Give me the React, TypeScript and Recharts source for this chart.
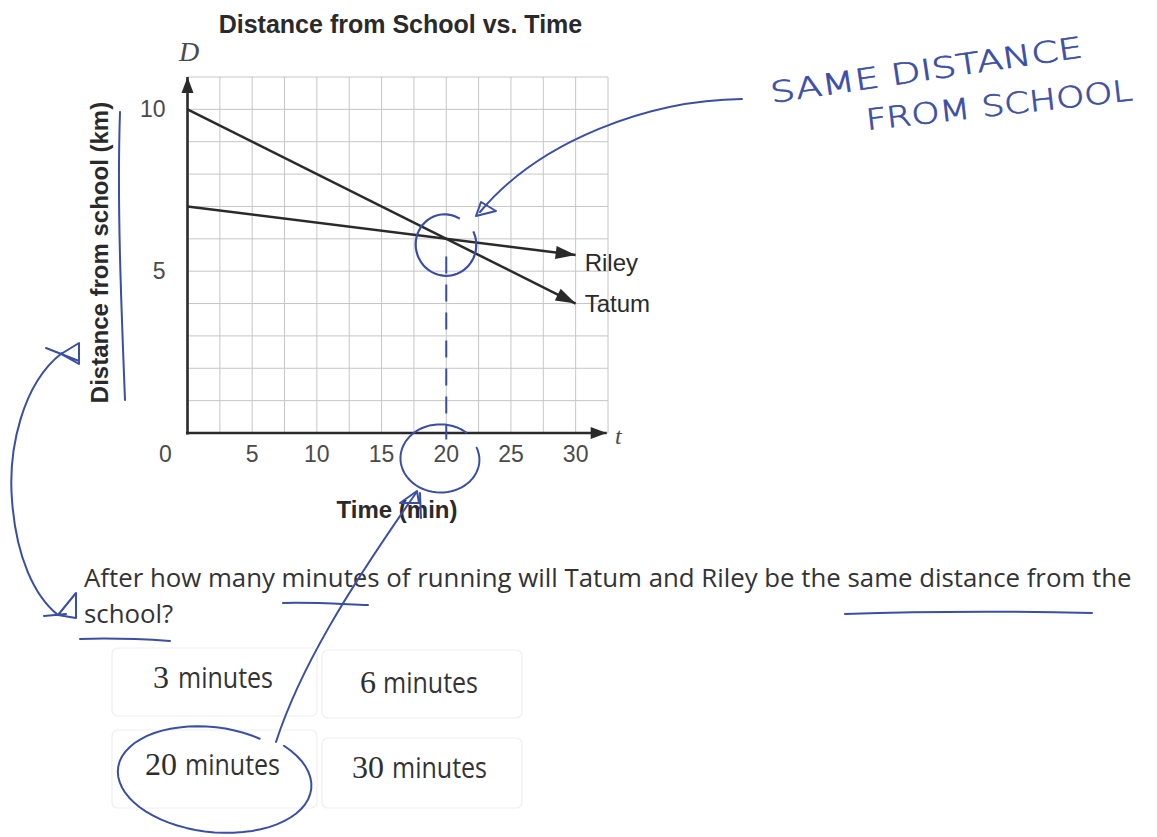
import { LineChart, Line, XAxis, YAxis, CartesianGrid, ReferenceLine, ReferenceDot, LabelList } from 'recharts'

// time in minutes, distance in km
const minutes = [0, 30]
const tatumKm = [10, 4]
const rileyKm = [7, 5.5]

const xTicks = [0, 5, 10, 15, 20, 25, 30]
const yTicks = [5, 10]
const gridMinutes = [0, 2.5, 5, 7.5, 10, 12.5, 15, 17.5, 20, 22.5, 25, 27.5, 30, 32.5]
const gridKm = [0, 1, 2, 3, 4, 5, 6, 7, 8, 9, 10, 11]

const meetMinute = 20
const meetKm = 6
const choiceMinutes = [3, 6, 20, 30]

const data = minutes.map((t, i) => ({ t, tatum: tatumKm[i], riley: rileyKm[i] }))

const INK = '#2a2a2a'
const TICK = '#4a4a4a'
const GRID = '#c6c6c6'
const PEN = '#3b4ea5'
const SANS = "'Liberation Sans', Arial, Helvetica, sans-serif"
const SERIF = "'Liberation Serif', 'Times New Roman', serif"
const BODY = "'Open Sans', 'Noto Sans', sans-serif"
const HAND = "'DejaVu Sans', sans-serif"

const W = 1157
const H = 837
const PLOT = { left: 187.5, top: 77, right: 608, bottom: 433 }

// axis line with a filled arrowhead at the far end
const AxisArrow = (p: any) => {
  const { x1, y1, x2, y2 } = p
  const ang = (Math.atan2(y2 - y1, x2 - x1) * 180) / Math.PI
  return (
    <g>
      <line x1={x1} y1={y1} x2={x2} y2={y2} stroke={INK} strokeWidth={2.6} />
      <path d="M0 0 L-16 -6 L-16 6 Z" fill={INK} transform={`translate(${x2},${y2}) rotate(${ang})`} />
    </g>
  )
}

// arrowhead drawn on the last point of a series
const arrowDot = (key: string) => (p: any) => {
  const { cx, cy, index, points } = p
  if (index !== minutes.length - 1) return <g key={`${key}-${index}`} />
  let ang = 0
  if (points && points.length > 1) {
    const prev = points[index - 1]
    ang = (Math.atan2(cy - prev.y, cx - prev.x) * 180) / Math.PI
  }
  return (
    <path
      key={`${key}-${index}`}
      d="M0 0 L-20 -6.5 L-20 6.5 Z"
      fill={INK}
      transform={`translate(${cx},${cy}) rotate(${ang})`}
    />
  )
}

const endLabel = (text: string, dy: number) => (p: any) => {
  if (p.index !== minutes.length - 1) return null
  return (
    <text x={p.x + 9} y={p.y + dy} fill={INK} fontSize={24} fontFamily={SANS}>
      {text}
    </text>
  )
}

const XTick = (p: any) => {
  const v = p.payload.value
  return (
    <text x={p.x + (v === 0 ? -22 : 0)} y={p.y} dy={29} textAnchor="middle" fill={TICK} fontSize={23} fontFamily={SANS}>
      {v}
    </text>
  )
}

const YTick = (p: any) => (
  <text x={p.x} y={p.y} dy={8} textAnchor="end" fill={TICK} fontSize={23} fontFamily={SANS}>
    {p.payload.value}
  </text>
)

// wobbly hand-drawn loop
function loop(cx: number, cy: number, rx: number, ry: number, start: number, sweep: number, tilt = 0, grow = 0.06) {
  const n = 60
  const t = (tilt * Math.PI) / 180
  const pts: string[] = []
  for (let i = 0; i <= n; i++) {
    const f = i / n
    const a = ((start + sweep * f) * Math.PI) / 180
    const k = 1 + grow * f + 0.015 * Math.sin(f * 9)
    const x0 = rx * k * Math.cos(a)
    const y0 = ry * k * Math.sin(a)
    pts.push(`${(cx + x0 * Math.cos(t) - y0 * Math.sin(t)).toFixed(1)} ${(cy + x0 * Math.sin(t) + y0 * Math.cos(t)).toFixed(1)}`)
  }
  return 'M' + pts.join(' L')
}

const MeetRing = (p: any) => (
  <path d={loop(p.cx - 1, p.cy + 6, 29, 30, -60, -325)} fill="none" stroke={PEN} strokeWidth={2.2} />
)

const penLine = { fill: 'none', stroke: PEN, strokeWidth: 2, strokeLinecap: 'round' as const, strokeLinejoin: 'round' as const }

const choicePos = [
  { x: 153, y: 688, gap: 25 },
  { x: 360, y: 693, gap: 23 },
  { x: 145, y: 775, gap: 40 },
  { x: 352, y: 778, gap: 40 },
]

export default function App() {
  return (
    <div style={{ position: 'absolute', left: 0, top: 0, width: W, height: H, background: '#fff' }}>
      <LineChart
        width={W}
        height={H}
        data={data}
        margin={{ top: PLOT.top, right: W - PLOT.right, bottom: H - PLOT.bottom - 40, left: PLOT.left - 60 }}
      >
        <CartesianGrid
          stroke={GRID}
          strokeWidth={1}
          verticalValues={gridMinutes}
          horizontalValues={gridKm}
        />
        <XAxis
          type="number"
          dataKey="t"
          domain={[0, 32.5]}
          ticks={xTicks}
          axisLine={false}
          tickLine={false}
          tickSize={0}
          tickMargin={0}
          height={40}
          interval={0}
          tick={XTick}
        />
        <YAxis
          type="number"
          domain={[0, 11]}
          ticks={yTicks}
          axisLine={false}
          tickLine={false}
          tickSize={0}
          tickMargin={22}
          width={60}
          interval={0}
          tick={YTick}
        />
        <ReferenceLine segment={[{ x: -0.12, y: 0 }, { x: 32.4, y: 0 }]} ifOverflow="visible" shape={AxisArrow} />
        <ReferenceLine segment={[{ x: 0, y: -0.05 }, { x: 0, y: 11 }]} ifOverflow="visible" shape={AxisArrow} />
        <Line
          type="linear"
          dataKey="tatum"
          stroke={INK}
          strokeWidth={2.5}
          dot={arrowDot('tatum')}
          activeDot={false}
          isAnimationActive={false}
        >
          <LabelList dataKey="tatum" content={endLabel('Tatum', 8)} />
        </Line>
        <Line
          type="linear"
          dataKey="riley"
          stroke={INK}
          strokeWidth={2.5}
          dot={arrowDot('riley')}
          activeDot={false}
          isAnimationActive={false}
        >
          <LabelList dataKey="riley" content={endLabel('Riley', 16)} />
        </Line>
        <ReferenceLine
          segment={[{ x: meetMinute, y: meetKm - 0.55 }, { x: meetMinute, y: -0.2 }]}
          ifOverflow="visible"
          stroke={PEN}
          strokeWidth={2}
          strokeDasharray="17 11"
        />
        <ReferenceDot x={meetMinute} y={meetKm} r={29} ifOverflow="visible" shape={MeetRing} />
      </LineChart>

      <svg width={W} height={H} style={{ position: 'absolute', left: 0, top: 0, pointerEvents: 'none' }}>
        {/* chart titles */}
        <text x={400.5} y={33} textAnchor="middle" fill={INK} fontSize={25} fontWeight="bold" fontFamily={SANS}>
          Distance from School vs. Time
        </text>
        <text x={179} y={61} fill={TICK} fontSize={28} fontStyle="italic" fontFamily={SERIF}>D</text>
        <text x={615} y={444} fill={TICK} fontSize={24} fontStyle="italic" fontFamily={SERIF}>t</text>
        <text
          transform="translate(99,252.5) rotate(-90)"
          dy={8.5}
          textAnchor="middle"
          fill={INK}
          fontSize={24}
          fontWeight="bold"
          fontFamily={SANS}
        >
          Distance from school (km)
        </text>
        <text x={397} y={518} textAnchor="middle" fill={INK} fontSize={24} fontWeight="bold" fontFamily={SANS}>
          Time (min)
        </text>

        {/* question */}
        <text x={84} y={587} fill="#333" fontSize={25.8} fontFamily={BODY}>
          After how many minutes of running will Tatum and Riley be the same distance from the
        </text>
        <text x={84} y={623} fill="#333" fontSize={25.8} fontFamily={BODY}>school?</text>

        {/* answer choices */}
        <g stroke="#efefef" strokeWidth={1.2} fill="none">
          <rect x={112} y={648} width={205} height={68} rx={6} />
          <rect x={322} y={650} width={200} height={68} rx={6} />
          <rect x={112} y={730} width={205} height={78} rx={6} />
          <rect x={322} y={738} width={200} height={70} rx={6} />
        </g>
        {choiceMinutes.map((m, i) => {
          const c = choicePos[i]
          return (
            <g key={m}>
              <text x={c.x} y={c.y} fill="#2e2e2e" fontSize={32} fontFamily={SERIF}>{m}</text>
              <text
                x={c.x + c.gap}
                y={c.y}
                fill="#333"
                fontSize={29}
                fontFamily={BODY}
                textLength={95}
                lengthAdjust="spacingAndGlyphs"
              >
                minutes
              </text>
            </g>
          )
        })}

        {/* pen marks */}
        <g {...penLine}>
          <path d="M120 112 C117 200, 121 300, 125 400" />
          <path d="M62 353 C22 384, 8 450, 12 500 C16 556, 34 596, 58 615" />
          <path d="M61 354 L79 343 L79 364 Z M46 348 L79 361" />
          <path d="M58 615 L76 593 L76 618 Z M44 616 L66 614" />
          <path d="M283 603 C310 602, 340 604, 368 605" />
          <path d="M80 639 C110 638, 140 639, 170 641" />
          <path d="M845 614 C930 611, 1010 611, 1092 613" />
          <path d={loop(440, 459, 39, 33, -20, 330, 0, 0.04)} />
          <path d={loop(212, 779, 92, 51, -62, -345, 6, 0.08)} />
          <path d="M276 742 C300 668, 348 590, 416 493" />
          <path d="M400 503 L417 491 L419 503 Z M420 493 L421 518" />
          <path d="M742 99 C650 100, 540 140, 480 212" />
          <path d="M476 216 L481 202 L496 211 Z" />
        </g>
        <g fill={PEN} stroke={PEN} strokeWidth={0.7} fontSize={29} fontWeight={200} fontFamily={HAND}>
          <text x={772} y={103} transform="rotate(-8.4 772 103)" textLength={315} lengthAdjust="spacingAndGlyphs">
            SAME DISTANCE
          </text>
          <text x={867} y={130} transform="rotate(-6.4 867 130)" textLength={268} lengthAdjust="spacingAndGlyphs">
            FROM SCHOOL
          </text>
        </g>
      </svg>
    </div>
  )
}
